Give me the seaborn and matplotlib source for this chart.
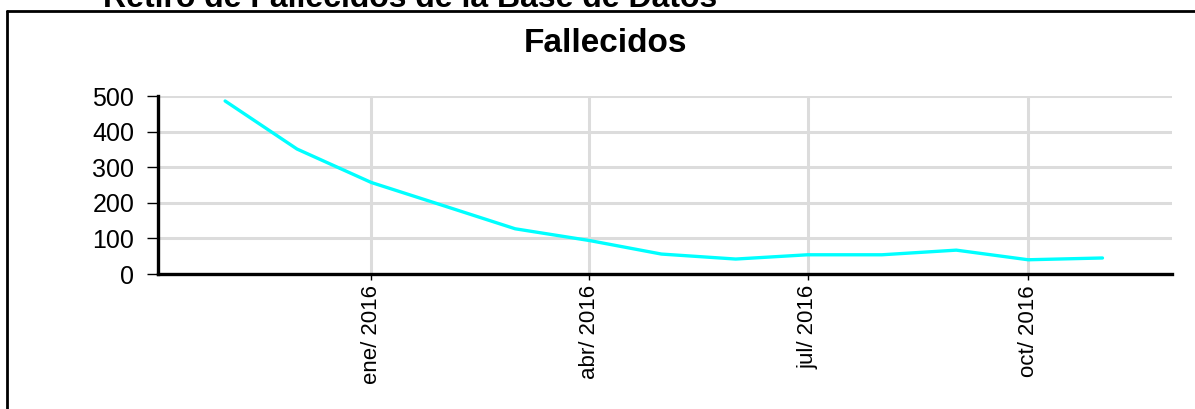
import pandas as pd
import matplotlib
matplotlib.use("Agg")
import matplotlib.pyplot as plt
import matplotlib.dates as mdates
from matplotlib.ticker import FuncFormatter
from matplotlib.lines import Line2D
import seaborn as sns

# monthly counts (nov 2015 - nov 2016)
fechas = pd.date_range("2015-11-01", "2016-11-01", freq="MS")
fallecidos = [486, 351, 257, 190, 127, 94, 56, 42, 54, 54, 67, 40, 45]

MESES = ['ene', 'feb', 'mar', 'abr', 'may', 'jun',
         'jul', 'ago', 'sep', 'oct', 'nov', 'dic']

df = pd.DataFrame({'fecha': fechas, 'fallecidos': fallecidos})

sns.set_style("white")
plt.rcParams['font.family'] = ['Liberation Sans', 'DejaVu Sans']
plt.rcParams['text.color'] = 'black'

fig = plt.figure(figsize=(11.95, 4.09), dpi=100)
ax = fig.add_axes([158 / 1195, 1 - 274 / 409, 1014 / 1195, 178 / 409])

sns.lineplot(data=df, x='fecha', y='fallecidos', color='#00ffff',
             linewidth=2.4, ax=ax, zorder=3)

ax.set_ylim(0, 500)
ax.set_xlim(pd.Timestamp("2015-10-04"), pd.Timestamp("2016-11-30"))
ax.set_yticks([0, 100, 200, 300, 400, 500])
ax.xaxis.set_major_locator(mdates.MonthLocator(bymonth=[1, 4, 7, 10]))
ax.xaxis.set_major_formatter(FuncFormatter(
    lambda v, pos: f"{MESES[mdates.num2date(v).month - 1]}/ {mdates.num2date(v).year}"))

ax.grid(True, color='#dcdcdc', linewidth=2.2)
ax.set_axisbelow(True)
ax.set_xlabel('')
ax.set_ylabel('')

for side in ['top', 'right']:
    ax.spines[side].set_visible(False)
for side in ['left', 'bottom']:
    ax.spines[side].set_color('black')
    ax.spines[side].set_linewidth(2.4)
    ax.spines[side].set_zorder(4)

ax.tick_params(axis='y', left=True, length=8, width=1.0, pad=9,
               labelsize=18, colors='black')
ax.tick_params(axis='x', bottom=True, length=4, width=1.0, pad=4,
               labelsize=16, colors='black', labelrotation=90)

# title and page header
fig.text(606 / 1195, 1 - 52 / 409, 'Fallecidos', ha='center', va='baseline',
         fontsize=24, fontweight='bold', color='black')
fig.text(103 / 1195, 1 - 7 / 409, 'Retiro de Fallecidos de la Base de Datos',
         ha='left', va='baseline', fontsize=23, fontweight='bold', color='black')

# frame around the chart
fig.add_artist(Line2D([7 / 1195, 7 / 1195], [0, 1 - 11 / 409],
                      color='black', linewidth=2, transform=fig.transFigure))
fig.add_artist(Line2D([7 / 1195, 1], [1 - 11 / 409, 1 - 11 / 409],
                      color='black', linewidth=2, transform=fig.transFigure))

fig.savefig('out.png', dpi=100)
